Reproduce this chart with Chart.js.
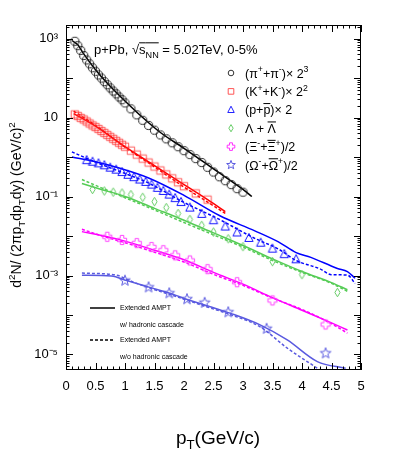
<!DOCTYPE html>
<html>
<head>
<meta charset="utf-8">
<script src="https://cdn.jsdelivr.net/npm/chart.js@4.4.0/dist/chart.umd.min.js"></script>
<style>
  html, body { margin: 0; padding: 0; background: #fff; }
  #chart { display: block; }
</style>
</head>
<body>
<canvas id="chart" width="394" height="458"></canvas>
<script>
// measured spectra (already scaled as in the legend)
const piPt = [0.15, 0.2, 0.25, 0.3, 0.35, 0.4, 0.45, 0.5, 0.55, 0.6, 0.65, 0.7, 0.75, 0.8, 0.85, 0.9, 0.95, 1.0, 1.1, 1.2, 1.3, 1.4, 1.5, 1.6, 1.7, 1.8, 1.9, 2.0, 2.1, 2.2, 2.3, 2.4, 2.5, 2.6, 2.7, 2.8, 2.9, 3.0];
const piVal = [851, 661, 501, 372, 288, 229, 182, 148, 120, 100, 81.3, 67.6, 56.2, 46.8, 39.8, 33.1, 28.2, 23.4, 16.6, 11.7, 8.51, 6.31, 4.79, 3.63, 2.88, 2.29, 1.82, 1.45, 1.15, 0.912, 0.724, 0.550, 0.417, 0.316, 0.251, 0.200, 0.158, 0.129];

const kPt = [0.15, 0.2, 0.25, 0.3, 0.35, 0.4, 0.45, 0.5, 0.55, 0.6, 0.65, 0.7, 0.75, 0.8, 0.85, 0.9, 0.95, 1.0, 1.1, 1.2, 1.3, 1.4, 1.5, 1.6, 1.7, 1.8, 1.9, 2.0, 2.2, 2.4];
const kVal = [12.0, 11.0, 9.77, 8.91, 7.94, 7.08, 6.31, 5.75, 5.13, 4.57, 4.07, 3.63, 3.24, 2.88, 2.57, 2.29, 2.04, 1.82, 1.45, 1.15, 0.912, 0.724, 0.575, 0.457, 0.363, 0.288, 0.229, 0.182, 0.120, 0.0832];

const pPt = [0.35, 0.45, 0.55, 0.65, 0.75, 0.85, 0.95, 1.05, 1.15, 1.25, 1.35, 1.45, 1.55, 1.65, 1.75, 1.85, 1.95, 2.1, 2.3, 2.5, 2.7, 2.9, 3.1, 3.3, 3.5, 3.7, 3.9];
const pVal = [0.832, 0.759, 0.692, 0.617, 0.537, 0.479, 0.417, 0.355, 0.309, 0.269, 0.234, 0.200, 0.166, 0.138, 0.112, 0.0912, 0.0724, 0.0525, 0.0363, 0.0251, 0.0174, 0.0123, 0.00891, 0.00676, 0.00479, 0.00347, 0.00257];

const lamPt = [0.45, 0.65, 0.8, 0.95, 1.1, 1.3, 1.5, 1.7, 1.9, 2.1, 2.3, 2.5, 2.75, 3.0, 3.5, 4.0, 4.6];
const lamVal = [0.151, 0.138, 0.129, 0.123, 0.112, 0.0955, 0.0741, 0.0525, 0.0372, 0.0263, 0.0186, 0.0126, 0.00851, 0.00537, 0.00224, 0.00105, 0.000372];

const xiPt = [0.7, 0.95, 1.2, 1.45, 1.65, 1.85, 2.1, 2.4, 2.9, 3.5, 4.4];
const xiVal = [0.00955, 0.00794, 0.00661, 0.00525, 0.00437, 0.00324, 0.0024, 0.00145, 0.000676, 0.000234, 0.0000575];

const omPt = [1.0, 1.4, 1.75, 2.05, 2.35, 2.75, 3.4, 4.4];
const omVal = [0.000741, 0.000501, 0.000355, 0.000251, 0.000204, 0.000117, 0.0000447, 0.0000107];

// Extended AMPT curves: with (solid) and without (dashed) hadronic cascade
const piAmptPt = [0.1, 0.2, 0.3, 0.5, 0.7, 1.0, 1.3, 1.6, 2.0, 2.5, 3.0, 3.15];
const piAmptVal = [891, 692, 407, 162, 74.1, 26.3, 10.0, 4.17, 1.66, 0.501, 0.151, 0.100];

const kAmptPt = [0.13, 0.5, 1.0, 1.5, 2.0, 2.4, 2.7];
const kAmptVal = [12.6, 6.03, 1.82, 0.603, 0.200, 0.0832, 0.0417];
const kNoCascVal = [14.5, 6.31, 1.78, 0.562, 0.174, 0.0724, 0.0372];

const pAmptPt = [0.1, 0.5, 0.9, 1.4, 2.0, 2.6, 3.2, 3.6, 3.9, 4.15, 4.6, 4.77, 4.9];
const pAmptVal = [1.0, 0.759, 0.525, 0.295, 0.107, 0.0331, 0.0135, 0.00708, 0.0038, 0.00288, 0.00151, 0.00126, 0.000851];
const pNoCascPt = [0.1, 0.5, 0.9, 1.4, 2.0, 2.6, 3.2, 3.6, 3.9, 4.3, 4.5, 4.77, 4.9];
const pNoCascVal = [1.35, 0.741, 0.437, 0.219, 0.0708, 0.0263, 0.00871, 0.00468, 0.0024, 0.00148, 0.00105, 0.00102, 0.000631];

const lamAmptPt = [0.27, 0.6, 1.0, 1.5, 2.0, 2.5, 3.0, 3.5, 4.0, 4.5, 4.77];
const lamAmptVal = [0.214, 0.151, 0.100, 0.0501, 0.0251, 0.0120, 0.00575, 0.00263, 0.00126, 0.000661, 0.000437];
const lamNoCascVal = [0.269, 0.166, 0.0933, 0.0457, 0.0219, 0.0107, 0.00525, 0.0024, 0.0012, 0.000631, 0.000398];

const xiAmptPt = [0.27, 0.7, 1.0, 1.5, 2.0, 2.5, 3.0, 3.5, 4.0, 4.5, 4.77];
const xiAmptVal = [0.0129, 0.00955, 0.00741, 0.00437, 0.00251, 0.0012, 0.000603, 0.000275, 0.000132, 0.0000631, 0.0000417];
const xiNoCascVal = [0.0148, 0.00912, 0.00676, 0.00389, 0.00219, 0.00107, 0.000562, 0.000269, 0.000138, 0.0000603, 0.0000347];

const omAmptPt = [0.27, 0.77, 1.03, 1.42, 1.76, 2.08, 2.36, 2.79, 3.29, 3.75, 4.26, 4.74];
const omAmptVal = [0.00102, 0.000977, 0.000741, 0.000501, 0.000355, 0.00024, 0.000178, 0.00011, 0.0000562, 0.0000234, 0.00000661, 0.00000447];
const omNoCascPt = [0.27, 0.86, 1.03, 1.42, 1.76, 2.08, 2.36, 2.79, 3.29, 3.75, 4.26, 4.5];
const omNoCascVal = [0.00115, 0.00102, 0.000794, 0.000479, 0.000331, 0.000229, 0.000166, 0.000102, 0.0000501, 0.0000145, 0.00000447, 0.00000251];

// axes
const xTickVals = [0, 0.5, 1, 1.5, 2, 2.5, 3, 3.5, 4, 4.5, 5];
const xTickLabels = ['0', '0.5', '1', '1.5', '2', '2.5', '3', '3.5', '4', '4.5', '5'];
const yTickVals = [1e-5, 1e-3, 1e-1, 10, 1e3];
const yTickLabels = ['10\u207B\u2075', '10\u207B\u00B3', '10\u207B\u00B9', '10', '10\u00B3'];
const yMin = 4.05e-6;
const yMax = 2200;

const FONT = '"Liberation Sans", Arial, Helvetica, sans-serif';

const toXY = (xs, ys) => xs.map((x, i) => ({ x, y: ys[i] }));

// open ROOT-like markers
const markerPath = (g, type, cx, cy, r) => {
    g.beginPath();
    if (type === 'circle') {
        g.arc(cx, cy, r, 0, Math.PI * 2);
    } else if (type === 'square') {
        g.rect(cx - r, cy - r, 2 * r, 2 * r);
    } else if (type === 'triangle') {
        g.moveTo(cx, cy - r);
        g.lineTo(cx + r * 0.9, cy + r * 0.75);
        g.lineTo(cx - r * 0.9, cy + r * 0.75);
        g.closePath();
    } else if (type === 'diamond') {
        g.moveTo(cx, cy - r);
        g.lineTo(cx + r * 0.6, cy);
        g.lineTo(cx, cy + r);
        g.lineTo(cx - r * 0.6, cy);
        g.closePath();
    } else if (type === 'cross') {
        const a = r * 0.38;
        const pts = [[-a, -r], [a, -r], [a, -a], [r, -a], [r, a], [a, a], [a, r], [-a, r], [-a, a], [-r, a], [-r, -a], [-a, -a]];
        pts.forEach(([dx, dy], i) => i ? g.lineTo(cx + dx, cy + dy) : g.moveTo(cx + dx, cy + dy));
        g.closePath();
    } else if (type === 'star') {
        for (let k = 0; k < 10; k++) {
            const ang = -Math.PI / 2 + k * Math.PI / 5;
            const rad = k % 2 ? r * 0.42 : r;
            const px = cx + rad * Math.cos(ang), py = cy + rad * Math.sin(ang);
            k ? g.lineTo(px, py) : g.moveTo(px, py);
        }
        g.closePath();
    }
};

const markerCanvas = (type, r, color) => {
    const s = Math.ceil(2 * r + 4);
    const c = document.createElement('canvas');
    c.width = s;
    c.height = s;
    const g = c.getContext('2d');
    g.strokeStyle = color;
    g.lineWidth = 1;
    markerPath(g, type, s / 2, s / 2, r);
    g.stroke();
    return c;
};

// rich text: parts = [text, mode], mode: '' normal, 'u' sup, 'd' sub, 'o' overline, 'od' overlined sub
const richWidth = (ctx, parts, size) => parts.reduce((w, [t, m]) => {
    const small = m.includes('u') || m.includes('d');
    ctx.font = (small ? size * 0.7 : size) + 'px ' + FONT;
    return w + ctx.measureText(t).width;
}, 0);

const drawRich = (ctx, parts, x, y, size, align) => {
    let cx = align === 'center' ? x - richWidth(ctx, parts, size) / 2 : x;
    ctx.textBaseline = 'alphabetic';
    ctx.textAlign = 'left';
    parts.forEach(([t, m]) => {
        const small = m.includes('u') || m.includes('d');
        ctx.font = (small ? size * 0.7 : size) + 'px ' + FONT;
        const dy = m.includes('u') ? -size * 0.42 : m.includes('d') ? size * 0.28 : 0;
        ctx.fillText(t, cx, y + dy);
        const tw = ctx.measureText(t).width;
        if (m.includes('o')) {
            ctx.beginPath();
            ctx.lineWidth = 1;
            ctx.moveTo(cx, y - size * 0.86);
            ctx.lineTo(cx + tw, y - size * 0.86);
            ctx.stroke();
        }
        cx += tw;
    });
};

const legendRows = [
    { type: 'circle', r: 2.8, color: '#333', parts: [['(\u03C0', ''], ['+', 'u'], ['+\u03C0', ''], ['-', 'u'], [')\u00D7 2', ''], ['3', 'u']] },
    { type: 'square', r: 2.8, color: '#ff5555', parts: [['(K', ''], ['+', 'u'], ['+K', ''], ['-', 'u'], [')\u00D7 2', ''], ['2', 'u']] },
    { type: 'triangle', r: 3.6, color: '#2222ff', parts: [['(p+', ''], ['p', 'o'], [')\u00D7 2', '']] },
    { type: 'diamond', r: 3.6, color: '#66cc66', parts: [['\u039B + ', ''], ['\u039B', 'o']] },
    { type: 'cross', r: 3.8, color: '#ff33ff', parts: [['(\u039E', ''], ['-', 'u'], ['+', ''], ['\u039E', 'o'], ['+', 'u'], [')/2', '']] },
    { type: 'star', r: 4.6, color: '#5a5ae0', parts: [['(\u03A9', ''], ['-', 'u'], ['+', ''], ['\u03A9', 'o'], ['+', 'u'], [')/2', '']] }
];

const decorPlugin = {
    id: 'decor',
    afterDraw(chart) {
        const { ctx, chartArea: a, scales: { x, y } } = chart;
        ctx.save();
        ctx.strokeStyle = '#000';
        ctx.fillStyle = '#000';
        ctx.lineWidth = 1;

        // frame
        ctx.strokeRect(Math.round(a.left) + 0.5, Math.round(a.top) + 0.5, Math.round(a.right - a.left) - 1, Math.round(a.bottom - a.top) - 1);

        // inward ticks
        ctx.beginPath();
        for (let i = 0; i <= 50; i++) {
            const px = Math.round(x.getPixelForValue(i / 10)) + 0.5;
            const len = i % 5 === 0 ? 7 : 3.5;
            ctx.moveTo(px, a.bottom);
            ctx.lineTo(px, a.bottom - len);
            ctx.moveTo(px, a.top);
            ctx.lineTo(px, a.top + len);
        }
        for (let d = -6; d <= 3; d++) {
            for (let m = 1; m <= 9; m++) {
                const v = m * Math.pow(10, d);
                if (v < yMin || v > yMax) continue;
                const py = Math.round(y.getPixelForValue(v)) + 0.5;
                const len = m === 1 ? 7 : 3.5;
                ctx.moveTo(a.left, py);
                ctx.lineTo(a.left + len, py);
                ctx.moveTo(a.right, py);
                ctx.lineTo(a.right - len, py);
            }
        }
        ctx.stroke();

        // header
        drawRich(ctx, [['p+Pb, ', ''], ['\u221A', ''], ['s', 'o'], ['NN', 'od'], [' = 5.02TeV, 0-5%', '']], 94, 54, 13, 'left');

        // species legend
        legendRows.forEach((row, i) => {
            const cy = 73 + i * 18.4;
            ctx.strokeStyle = row.color;
            markerPath(ctx, row.type, 231, cy, row.r);
            ctx.stroke();
            ctx.strokeStyle = '#000';
            drawRich(ctx, row.parts, 245, cy + 4.5, 12.5, 'left');
        });

        // model legend
        ctx.lineWidth = 1.5;
        ctx.beginPath();
        ctx.moveTo(90, 308);
        ctx.lineTo(115, 308);
        ctx.stroke();
        ctx.setLineDash([3, 2]);
        ctx.beginPath();
        ctx.moveTo(90, 340);
        ctx.lineTo(115, 340);
        ctx.stroke();
        ctx.setLineDash([]);
        ctx.font = '7px ' + FONT;
        ctx.textBaseline = 'middle';
        ctx.fillText('Extended AMPT', 120, 308);
        ctx.fillText('w/ hadronic cascade', 120, 325);
        ctx.fillText('Extended AMPT', 120, 340);
        ctx.fillText('w/o hadronic cascade', 120, 357);

        // axis titles
        drawRich(ctx, [['p', ''], ['T', 'd'], ['(GeV/c)', '']], 218, 444, 19, 'center');
        ctx.translate(21, 205);
        ctx.rotate(-Math.PI / 2);
        drawRich(ctx, [['d', ''], ['2', 'u'], ['N/ (2\u03C0p', ''], ['T', 'd'], ['dp', ''], ['T', 'd'], ['dy) (GeV/c)', ''], ['2', 'u']], 0, 0, 14, 'center');
        ctx.restore();
    }
};

const dataSet = (label, xs, ys, type, r, color) => ({
    label,
    data: toXY(xs, ys),
    showLine: false,
    pointStyle: markerCanvas(type, r, color),
    pointRadius: r,
    order: 0
});

const curve = (label, xs, ys, color, dashed) => ({
    label,
    data: toXY(xs, ys),
    showLine: true,
    borderColor: color,
    borderWidth: 1.5,
    borderDash: dashed ? [3, 2] : [],
    pointRadius: 0,
    cubicInterpolationMode: 'monotone',
    order: 1
});

document.addEventListener('DOMContentLoaded', () => {
    const ctx = document.getElementById('chart').getContext('2d');
    new Chart(ctx, {
        type: 'scatter',
        data: {
            datasets: [
                dataSet('pi', piPt, piVal, 'circle', 4.1, '#222'),
                dataSet('K', kPt, kVal, 'square', 3.7, 'rgba(255,40,40,0.75)'),
                dataSet('p', pPt, pVal, 'triangle', 4.6, '#1515ff'),
                dataSet('Lambda', lamPt, lamVal, 'diamond', 4.3, '#66cc66'),
                dataSet('Xi', xiPt, xiVal, 'cross', 4.6, '#ff44ff'),
                dataSet('Omega', omPt, omVal, 'star', 5.6, '#5a5ae0'),
                curve('pi AMPT', piAmptPt, piAmptVal, '#000', false),
                curve('K AMPT', kAmptPt, kAmptVal, '#ff0000', false),
                curve('K AMPT no casc', kAmptPt, kNoCascVal, '#ff0000', true),
                curve('p AMPT', pAmptPt, pAmptVal, '#0000ff', false),
                curve('p AMPT no casc', pNoCascPt, pNoCascVal, '#0000ff', true),
                curve('Lambda AMPT', lamAmptPt, lamAmptVal, '#55cc55', false),
                curve('Lambda AMPT no casc', lamAmptPt, lamNoCascVal, '#55cc55', true),
                curve('Xi AMPT', xiAmptPt, xiAmptVal, '#ff00ff', false),
                curve('Xi AMPT no casc', xiAmptPt, xiNoCascVal, '#ff00ff', true),
                curve('Omega AMPT', omAmptPt, omAmptVal, '#5a5ae0', false),
                curve('Omega AMPT no casc', omNoCascPt, omNoCascVal, '#5a5ae0', true)
            ]
        },
        options: {
            responsive: false,
            animation: false,
            layout: { padding: { top: 25, right: 33, left: 0, bottom: 0 } },
            plugins: {
                legend: { display: false },
                tooltip: { enabled: false }
            },
            scales: {
                x: {
                    type: 'linear',
                    min: 0,
                    max: 5,
                    grid: { display: false, drawTicks: false },
                    border: { display: false },
                    afterBuildTicks: (s) => { s.ticks = xTickVals.map(v => ({ value: v })); },
                    afterFit: (s) => { s.height = 88; },
                    ticks: {
                        autoSkip: false,
                        maxRotation: 0,
                        padding: 9,
                        color: '#000',
                        font: { family: FONT, size: 13 },
                        callback: (v, i) => xTickLabels[i]
                    }
                },
                y: {
                    type: 'logarithmic',
                    min: yMin,
                    max: yMax,
                    grid: { display: false, drawTicks: false },
                    border: { display: false },
                    afterBuildTicks: (s) => { s.ticks = yTickVals.map(v => ({ value: v })); },
                    afterFit: (s) => { s.width = 66; },
                    ticks: {
                        autoSkip: false,
                        padding: 8,
                        color: '#000',
                        font: { family: FONT, size: 13 },
                        callback: (v, i) => yTickLabels[i]
                    }
                }
            }
        },
        plugins: [decorPlugin]
    });
});
</script>
</body>
</html>
